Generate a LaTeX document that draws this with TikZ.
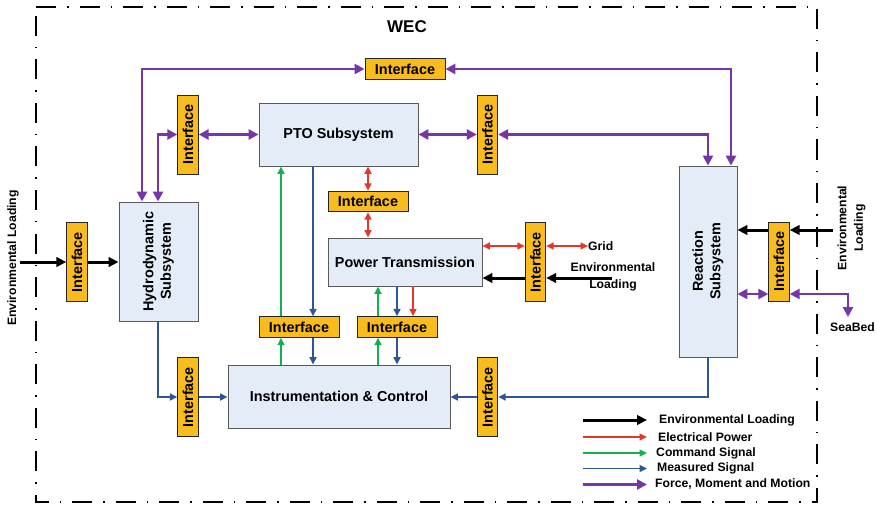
\documentclass[tikz,border=0pt]{standalone}
\usepackage{fontspec}
\setmainfont{Liberation Sans}
\usetikzlibrary{arrows.meta,calc}
\definecolor{ifc}{HTML}{F9BC1E}
\definecolor{boxc}{HTML}{E4ECF7}
\definecolor{purp}{HTML}{7436A8}
\definecolor{redc}{HTML}{E8352A}
\definecolor{grnc}{HTML}{12B050}
\definecolor{bluc}{HTML}{2E5597}
\begin{document}
\begin{tikzpicture}[x=1pt,y=-1pt,
  iface/.style={draw=black!85, fill=ifc, line width=0.9pt, inner sep=0pt, font=\fontsize{14.4}{17}\selectfont\bfseries},
  hif/.style={iface, minimum width=80pt, minimum height=20.5pt},
  vif/.style={iface, minimum width=20.5pt, minimum height=79pt},
  sys/.style={draw=black!65, fill=boxc, line width=0.9pt, inner sep=0pt, font=\fontsize{14.4}{17.5}\selectfont\bfseries},
  lab/.style={inner sep=0pt, font=\fontsize{12.2}{16.5}\selectfont\bfseries},
  pur/.style={draw=purp, line width=2.6pt, >={Triangle[length=10pt,width=10pt]}},
  blk/.style={draw=black, line width=3pt, >={Triangle[length=10pt,width=9.5pt]}},
  redl/.style={draw=redc, line width=1.6pt, >={Triangle[length=7.5pt,width=7pt]}},
  grnl/.style={draw=grnc, line width=1.6pt, >={Triangle[length=7.5pt,width=7pt]}},
  blul/.style={draw=bluc, line width=1.6pt, >={Triangle[length=7.5pt,width=7pt]}},
  border/.style={draw=black, line width=2.4pt, dash pattern=on 20pt off 11pt on 1.5pt off 11pt}
]
\useasboundingbox (0,0) rectangle (877,505);
\draw[border] (36,7) -- (817,7) -- (817,502) -- (36,502) -- cycle;
\node[inner sep=0pt, font=\fontsize{17}{20}\selectfont\bfseries] (wec) at (407,27) {WEC};

% subsystems
\node[sys, minimum width=159pt, minimum height=63pt] (pto) at (338.5,134.5) {PTO Subsystem};
\node[sys, minimum width=79pt, minimum height=119pt] (hydro) at (158.5,261.5)
  {\rotatebox{90}{\begin{tabular}{@{}c@{}}Hydrodynamic\\Subsystem\end{tabular}}};
\node[sys, minimum width=58pt, minimum height=191pt] (react) at (708,261.5)
  {\rotatebox{90}{\begin{tabular}{@{}c@{}}Reaction\\Subsystem\end{tabular}}};
\node[sys, minimum width=154pt, minimum height=48pt] (pt) at (405,262) {Power Transmission};
\node[sys, minimum width=222pt, minimum height=63pt] (ic) at (339,396.5) {Instrumentation \& Control};

% interfaces
\node[hif] (ifT) at (405,69) {Interface};
\node[vif] (ifUL) at (188,134.5) {\rotatebox{90}{Interface}};
\node[vif] (ifUR) at (487.5,134.5) {\rotatebox{90}{Interface}};
\node[vif] (ifEL) at (77,262) {\rotatebox{90}{Interface}};
\node[hif] (ifM) at (368,201.5) {Interface};
\node[vif] (ifPT) at (535.5,262) {\rotatebox{90}{Interface}};
\node[hif] (ifLL) at (299,327) {Interface};
\node[hif] (ifLR) at (397,327) {Interface};
\node[vif] (ifBL) at (188,397) {\rotatebox{90}{Interface}};
\node[vif] (ifBR) at (487.5,397) {\rotatebox{90}{Interface}};
\node[vif] (ifR) at (779,261.5) {\rotatebox{90}{Interface}};

% labels
\node[lab, rotate=90] (envL) at (13,258) {Environmental Loading};
\node[lab, rotate=90, align=center] (envR) at (851.5,228) {Environmental\\Loading};
\node[lab, align=center] (envPT) at (613,277) {Environmental\\Loading};
\node[lab, anchor=west] (grid) at (588,246) {Grid};
\node[lab] (seabed) at (852.5,327) {SeaBed};

% helper coordinates
\coordinate (yGrid) at (0,246);
\coordinate (envPTs) at (612,278);
\coordinate (envLs) at (20,262);
\coordinate (envRs) at (833,230);
\coordinate (ySea) at (0,294);
\coordinate (sbEnd) at (848,317);
\coordinate (gL) at ([xshift=-18pt]ifLL.south);
\coordinate (bL) at ([xshift=14pt]ifLL.south);
\coordinate (gR) at ([xshift=-19pt]ifLR.south);
\coordinate (bR) at (ifLR.south);
\coordinate (rR) at ([xshift=16pt]ifLR.south);

% purple: force, moment and motion
\draw[pur,<->] ([xshift=-16.5pt]hydro.north) |- (ifT.west);
\draw[pur,<->] (ifT.east) -| ([xshift=23pt]react.north);
\draw[pur,<->] ([xshift=-0.5pt]hydro.north) |- (ifUL.west);
\draw[pur,<->] (ifUL.east) -- (pto.west);
\draw[pur,<->] (pto.east) -- (ifUR.west);
\draw[pur,<->] (ifUR.east) -| (react.north);
\draw[pur,<->] (react.east |- ySea) -- (ifR.west |- ySea);
\draw[pur,<->] (ifR.east |- ySea) -| (sbEnd);

% red: electrical power
\draw[redl,<->] (ifM.north |- pto.south) -- (ifM.north);
\draw[redl,<->] (ifM.south) -- (ifM.south |- pt.north);
\draw[redl,<->] (pt.east |- yGrid) -- (ifPT.west |- yGrid);
\draw[redl,<->] (ifPT.east |- yGrid) -- (grid.west);
\draw[redl,->] (rR |- pt.south) -- (rR |- ifLR.north);

% black: environmental loading
\draw[blk,->] (envLs) -- (ifEL.west);
\draw[blk,->] (ifEL.east) -- (hydro.west |- ifEL.east);
\draw[blk,->] (envPTs) -- (ifPT.east |- envPTs);
\draw[blk,->] (ifPT.west |- envPTs) -- (pt.east |- envPTs);
\draw[blk,->] (envRs) -- (ifR.east |- envRs);
\draw[blk,->] (ifR.west |- envRs) -- (react.east |- envRs);

% green: command signal
\draw[grnl,->] (gL |- ic.north) -- (gL);
\draw[grnl,->] (gL |- ifLL.north) -- (gL |- pto.south);
\draw[grnl,->] (gR |- ic.north) -- (gR);
\draw[grnl,->] (gR |- ifLR.north) -- (gR |- pt.south);

% blue: measured signal
\draw[blul,->] (bL |- pto.south) -- (bL |- ifLL.north);
\draw[blul,->] (bL) -- (bL |- ic.north);
\draw[blul,->] (bR |- pt.south) -- (bR |- ifLR.north);
\draw[blul,->] (bR) -- (bR |- ic.north);
\draw[blul,->] ([xshift=-0.5pt]hydro.south) |- (ifBL.west);
\draw[blul,->] (ifBL.east) -- (ic.west |- ifBL.east);
\draw[blul,->] (react.south) |- (ifBR.east);
\draw[blul,->] (ifBR.west) -- (ic.east |- ifBR.west);

% legend
\node[lab, anchor=west] (lg1) at (659,420) {Environmental Loading};
\node[lab, anchor=west] (lg2) at (658,437) {Electrical Power};
\node[lab, anchor=west] (lg3) at (656,453) {Command Signal};
\node[lab, anchor=west] (lg4) at (657,468.5) {Measured Signal};
\node[lab, anchor=west] (lg5) at (655,484.5) {Force, Moment and Motion};
\coordinate (la1) at (583,420); \coordinate (lb1) at (647,420);
\coordinate (la2) at (583,437); \coordinate (lb2) at (647,437);
\coordinate (la3) at (583,453); \coordinate (lb3) at (647,453);
\coordinate (la4) at (583,468.5); \coordinate (lb4) at (647,468.5);
\coordinate (la5) at (583,484.5); \coordinate (lb5) at (647,484.5);
\draw[blk,->] (la1) -- (lb1);
\draw[redl,->] (la2) -- (lb2);
\draw[grnl,->] (la3) -- (lb3);
\draw[blul,->] (la4) -- (lb4);
\draw[pur,->] (la5) -- (lb5);
\end{tikzpicture}
\end{document}
